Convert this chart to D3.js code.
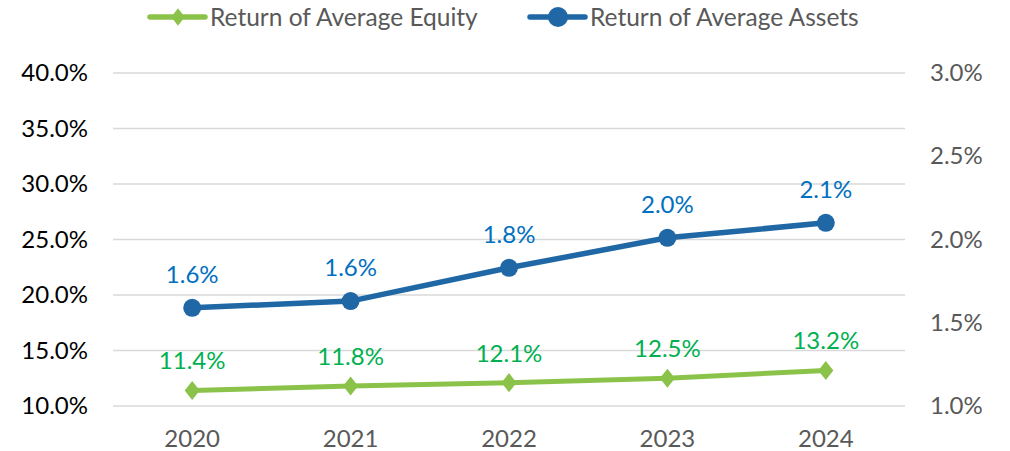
<!DOCTYPE html>
<html>
<head>
<meta charset="utf-8">
<script src="https://cdn.jsdelivr.net/npm/d3@7"></script>
<style>
  html, body { margin: 0; padding: 0; background: #fff; }
  svg text { font-family: Lato, "Open Sans", sans-serif; }
</style>
</head>
<body>
<svg id="chart" width="1010" height="451"></svg>
<script>
// values
const years = ['2020', '2021', '2022', '2023', '2024'];
const equity = [11.4, 11.8, 12.1, 12.5, 13.2];       // left axis, %
const assets = [1.59, 1.63, 1.83, 2.01, 2.10];       // right axis, %
const equityLabels = ['11.4%', '11.8%', '12.1%', '12.5%', '13.2%'];
const assetLabels = ['1.6%', '1.6%', '1.8%', '2.0%', '2.1%'];
const leftTicks = [10, 15, 20, 25, 30, 35, 40];
const rightTicks = [1.0, 1.5, 2.0, 2.5, 3.0];

(function () {
  const svg = d3.select('#chart');
  const m = { left: 113, right: 905, top: 73, bottom: 406 };

  const x = d3.scaleBand().domain(years).range([m.left, m.right]);
  const yL = d3.scaleLinear().domain([10, 40]).range([m.bottom, m.top]);
  const yR = d3.scaleLinear().domain([1, 3]).range([m.bottom, m.top]);
  const cx = d => x(d) + x.bandwidth() / 2;

  const GREEN = '#8bc34a', BLUE = '#1f67a5';
  const GREEN_T = '#00b050', BLUE_T = '#0070c0';
  const FS = 24;

  // gridlines
  svg.append('g').selectAll('line').data(leftTicks).join('line')
    .attr('x1', m.left).attr('x2', m.right)
    .attr('y1', d => yL(d)).attr('y2', d => yL(d))
    .attr('stroke', '#d9d9d9').attr('stroke-width', 1.5);

  // left axis
  const gl = svg.append('g').attr('transform', `translate(${m.left - 25},0)`)
    .call(d3.axisLeft(yL).tickValues(leftTicks).tickSize(0).tickPadding(0)
      .tickFormat(d => d.toFixed(1) + '%'));
  gl.select('.domain').remove();
  gl.selectAll('text').attr('font-size', FS).attr('fill', '#000')
    .style('font-family', 'Lato, sans-serif');

  // right axis
  const gr = svg.append('g').attr('transform', `translate(${m.right + 25},0)`)
    .call(d3.axisRight(yR).tickValues(rightTicks).tickSize(0).tickPadding(0)
      .tickFormat(d => d.toFixed(1) + '%'));
  gr.select('.domain').remove();
  gr.selectAll('text').attr('font-size', FS).attr('fill', '#595959')
    .style('font-family', 'Lato, sans-serif');

  // x axis
  const gx = svg.append('g').attr('transform', `translate(0,${m.bottom + 24})`)
    .call(d3.axisBottom(x).tickSize(0).tickPadding(0));
  gx.select('.domain').remove();
  gx.selectAll('text').attr('font-size', FS).attr('fill', '#595959')
    .style('font-family', 'Lato, sans-serif');

  // lines
  const lineL = d3.line().x((d, i) => cx(years[i])).y(d => yL(d));
  const lineR = d3.line().x((d, i) => cx(years[i])).y(d => yR(d));
  svg.append('path').datum(equity).attr('d', lineL)
    .attr('fill', 'none').attr('stroke', GREEN).attr('stroke-width', 5);
  svg.append('path').datum(assets).attr('d', lineR)
    .attr('fill', 'none').attr('stroke', BLUE).attr('stroke-width', 5.5);

  const diamond = d3.symbol().type(d3.symbolDiamond2).size(200);
  svg.append('g').selectAll('path').data(equity).join('path')
    .attr('d', diamond)
    .attr('transform', (d, i) => `translate(${cx(years[i])},${yL(d)}) scale(0.85,1.08)`)
    .attr('fill', GREEN);
  svg.append('g').selectAll('circle').data(assets).join('circle')
    .attr('cx', (d, i) => cx(years[i])).attr('cy', d => yR(d)).attr('r', 9)
    .attr('fill', BLUE);

  // data labels
  svg.append('g').selectAll('text').data(equity).join('text')
    .attr('x', (d, i) => cx(years[i])).attr('y', d => yL(d) - 21)
    .attr('text-anchor', 'middle').attr('font-size', FS).attr('fill', GREEN_T)
    .text((d, i) => equityLabels[i]);
  svg.append('g').selectAll('text').data(assets).join('text')
    .attr('x', (d, i) => cx(years[i])).attr('y', d => yR(d) - 25)
    .attr('text-anchor', 'middle').attr('font-size', FS).attr('fill', BLUE_T)
    .text((d, i) => assetLabels[i]);

  // legend
  const leg = [
    { x: 150, name: 'Return of Average Equity', color: GREEN, mark: 'diamond' },
    { x: 530, name: 'Return of Average Assets', color: BLUE, mark: 'circle' }
  ];
  const lg = svg.append('g').selectAll('g').data(leg).join('g')
    .attr('transform', d => `translate(${d.x},17)`);
  lg.append('line').attr('x1', 0).attr('x2', 55)
    .attr('stroke', d => d.color).attr('stroke-width', 5.5)
    .attr('stroke-linecap', 'round');
  lg.filter(d => d.mark === 'diamond').append('path')
    .attr('d', d3.symbol().type(d3.symbolDiamond2).size(180))
    .attr('transform', 'translate(28,0) scale(0.8,1.05)').attr('fill', d => d.color);
  lg.filter(d => d.mark === 'circle').append('circle')
    .attr('cx', 28).attr('r', 10).attr('fill', d => d.color);
  lg.append('text').attr('x', 60).attr('y', 9)
    .attr('font-size', 24.5).attr('fill', '#595959').text(d => d.name);
})();
</script>
</body>
</html>
